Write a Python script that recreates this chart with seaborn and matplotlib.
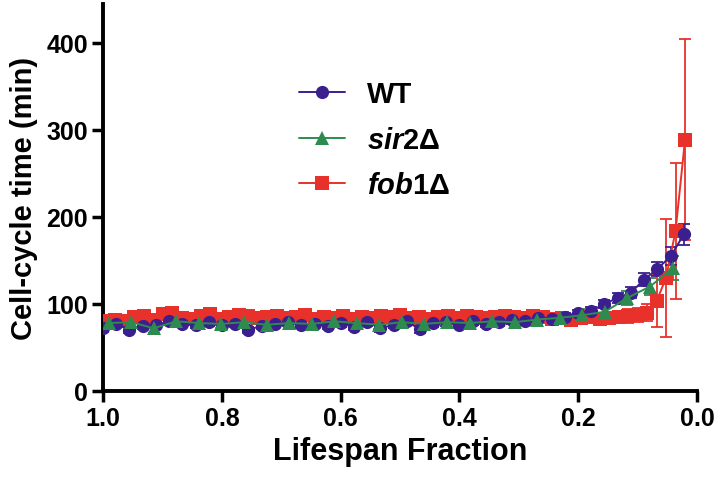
import matplotlib
matplotlib.use('Agg')
import matplotlib.pyplot as plt
import pandas as pd
import seaborn as sns

sns.set_style('ticks')
plt.rcParams['font.family'] = ['Liberation Sans', 'DejaVu Sans']
plt.rcParams['font.weight'] = 'bold'
plt.rcParams['mathtext.fontset'] = 'custom'
plt.rcParams['mathtext.it'] = 'Liberation Sans:italic:bold'
plt.rcParams['mathtext.rm'] = 'Liberation Sans:bold'
for k in ['text.color', 'axes.labelcolor', 'xtick.color', 'ytick.color']:
    plt.rcParams[k] = 'black'

# WT
wt_x = [1.000, 0.978, 0.956, 0.933, 0.911, 0.889, 0.867, 0.844, 0.822, 0.800,
        0.778, 0.756, 0.733, 0.711, 0.689, 0.667, 0.644, 0.622, 0.600, 0.578,
        0.556, 0.533, 0.511, 0.489, 0.467, 0.444, 0.422, 0.400, 0.378, 0.356,
        0.333, 0.311, 0.289, 0.267, 0.244, 0.222, 0.200, 0.178, 0.156, 0.133,
        0.111, 0.089, 0.067, 0.044, 0.022]
wt_y = [72, 77, 70, 75, 76, 80, 77, 76, 79, 76,
        77, 70, 75, 77, 79, 76, 77, 75, 78, 74,
        79, 72, 76, 80, 71, 78, 79, 76, 80, 77,
        79, 81, 80, 84, 83, 85, 89, 92, 100, 107,
        113, 128, 140, 155, 180]
wt_err = [4, 4, 4, 4, 4, 4, 4, 4, 4, 4,
          4, 4, 4, 4, 4, 4, 4, 4, 4, 4,
          4, 4, 4, 4, 4, 4, 4, 4, 4, 4,
          4, 4, 4, 4, 4, 4, 4, 5, 5, 6,
          6, 7, 8, 10, 12]

# sir2
sir2_x = [0.991, 0.953, 0.915, 0.877, 0.839, 0.801, 0.763, 0.725, 0.687, 0.649,
          0.611, 0.573, 0.535, 0.497, 0.459, 0.421, 0.383, 0.345, 0.307, 0.269,
          0.231, 0.193, 0.155, 0.117, 0.079, 0.041]
sir2_y = [78, 79, 72, 80, 78, 77, 79, 76, 78, 77,
          80, 78, 76, 79, 77, 79, 78, 80, 79, 82,
          84, 87, 91, 107, 120, 141]
sir2_err = [5, 5, 5, 5, 5, 5, 5, 5, 5, 5,
            5, 5, 5, 5, 5, 5, 5, 5, 5, 6,
            6, 7, 7, 8, 10, 14]

# fob1
fob1_x = [0.996, 0.980, 0.964, 0.948, 0.932, 0.916, 0.900, 0.884, 0.868, 0.852,
          0.836, 0.820, 0.804, 0.788, 0.772, 0.756, 0.740, 0.724, 0.708, 0.692,
          0.676, 0.660, 0.644, 0.628, 0.612, 0.596, 0.580, 0.564, 0.548, 0.532,
          0.516, 0.500, 0.484, 0.468, 0.452, 0.436, 0.420, 0.404, 0.388, 0.372,
          0.356, 0.340, 0.324, 0.308, 0.292, 0.276, 0.260, 0.244, 0.228, 0.212,
          0.196, 0.180, 0.164, 0.148, 0.132, 0.116, 0.100, 0.084, 0.068, 0.052,
          0.036, 0.020]
fob1_y = [80, 82, 80, 85, 86, 82, 88, 90, 84, 83,
          86, 88, 83, 85, 87, 86, 84, 85, 86, 84,
          85, 87, 83, 85, 84, 86, 83, 85, 84, 86,
          85, 87, 84, 85, 83, 85, 86, 84, 86, 85,
          84, 85, 86, 85, 84, 86, 85, 83, 84, 82,
          84, 85, 83, 84, 85, 86, 87, 90, 103, 130,
          184, 289]
fob1_err = [5, 5, 5, 5, 5, 5, 5, 5, 5, 5,
            6, 6, 6, 6, 6, 7, 7, 7, 6, 6,
            6, 6, 6, 6, 6, 6, 6, 6, 6, 6,
            6, 6, 6, 6, 6, 6, 6, 6, 6, 6,
            6, 6, 6, 6, 6, 6, 6, 6, 6, 6,
            7, 7, 7, 7, 7, 8, 8, 10, 30, 68,
            78, 116]

legend_labels = ['WT', r'$\it{sir2}$Δ', r'$\it{fob1}$Δ']

wt_color = '#3b1f8f'
sir2_color = '#2e8b50'
fob1_color = '#e8312a'

fig = plt.figure(figsize=(7.17, 4.85), dpi=100)
ax = fig.add_axes([0.144, 0.192, 0.828, 0.798])

series = [
    ('fob1', fob1_x, fob1_y, fob1_err, fob1_color, 's'),
    ('WT', wt_x, wt_y, wt_err, wt_color, 'o'),
    ('sir2', sir2_x, sir2_y, sir2_err, sir2_color, '^'),
]
for name, xs, ys, es, col, mk in series:
    df = pd.DataFrame({'x': xs, 'y': ys})
    ax.errorbar(xs, ys, yerr=es, fmt='none', ecolor=col, elinewidth=1.3,
                capsize=4, capthick=1.3, zorder=2)
    sns.lineplot(data=df, x='x', y='y', ax=ax, color=col, marker=mk,
                 markersize=9.5, markeredgewidth=0, linewidth=1.4,
                 sort=False, label=name, zorder=3)

handles, labels = ax.get_legend_handles_labels()
order = [labels.index('WT'), labels.index('sir2'), labels.index('fob1')]
leg = ax.legend([handles[i] for i in order], legend_labels,
                loc='upper left', bbox_to_anchor=(0.285, 0.87), frameon=False,
                fontsize=21, labelspacing=0.6, handlelength=1.6,
                handletextpad=0.75)

ax.set_xlim(1.0, 0.0)
ax.set_ylim(0, 445)
ax.set_xticks([1.0, 0.8, 0.6, 0.4, 0.2, 0.0])
ax.set_xticklabels(['1.0', '0.8', '0.6', '0.4', '0.2', '0.0'])
ax.set_yticks([0, 100, 200, 300, 400])
ax.set_xlabel('Lifespan Fraction', fontsize=22, fontweight='bold', labelpad=4)
ax.set_ylabel('Cell-cycle time (min)', fontsize=21, fontweight='bold', labelpad=6)
ax.tick_params(axis='both', labelsize=18, width=2.5, length=8, direction='out',
               color='black', pad=3)
for lbl in ax.get_xticklabels() + ax.get_yticklabels():
    lbl.set_fontweight('bold')
sns.despine(ax=ax)
for s in ['left', 'bottom']:
    ax.spines[s].set_linewidth(2.8)
    ax.spines[s].set_color('black')

fig.savefig('out.png', dpi=100)
